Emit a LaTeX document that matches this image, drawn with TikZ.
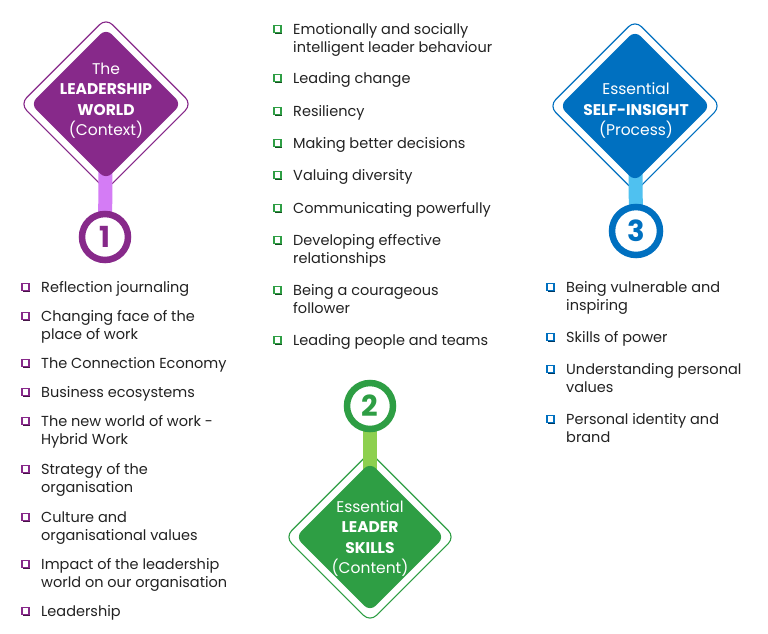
\documentclass[tikz,border=0pt]{standalone}
\usepackage{fontspec}
\setmainfont{Poppins}
\usetikzlibrary{shapes.geometric}
\definecolor{purp}{HTML}{87298A}
\definecolor{purpl}{HTML}{D47CF5}
\definecolor{blu}{HTML}{0070C0}
\definecolor{blul}{HTML}{4FC1F0}
\definecolor{grn}{HTML}{2E9E44}
\definecolor{grnl}{HTML}{8DD04F}
\definecolor{tx}{HTML}{222222}
\newcommand\bul[3]{%
  \fill[#3!50!black] (#1+1.2,#2-2.3) rectangle (#1+8.2,#2+4.7);
  \filldraw[fill=white,draw=#3,line width=1.3pt] (#1,#2-3.5) rectangle (#1+7,#2+3.5);
}
\newcommand\li[4]{\node[txt] (#1) at (#2,#3+5.5) {#4};}
\begin{document}
\begin{tikzpicture}[x=1pt,y=-1pt,
  txt/.style={anchor=base west,inner sep=0pt,text=tx,font=\fontsize{14.5}{18}\selectfont},
  dtxt/.style={inner sep=0pt,text=white,align=center,font=\fontsize{15.5}{20.5}\selectfont},
  outerd/.style={diamond,aspect=1,minimum width=#1,minimum height=#1,inner sep=0pt,fill=white,line width=1.1pt,rounded corners=9pt},
  innerd/.style={diamond,aspect=1,minimum width=#1,minimum height=#1,inner sep=0pt,rounded corners=8pt},
  numc/.style={circle,minimum size=46pt,inner sep=0pt,fill=white,line width=6.5pt,font=\fontsize{29}{29}\selectfont\bfseries},
  stem/.style={line width=14pt}
]
\useasboundingbox (0,0) rectangle (768,633);
\fill[white] (0,0) rectangle (768,633);

% ---- purple: leadership world
\coordinate (p1) at (106,104);
\coordinate (q1) at (105,237);
\node[outerd=172pt,draw=purp] (o1) at (p1) {};
\draw[stem,purpl] (p1) -- (q1);
\node[innerd=151pt,fill=purp] (d1) at (p1) {};
\node[dtxt] (t1) at (106,100.5) {The\\ \bfseries LEADERSHIP\\ \bfseries WORLD\\ (Context)};
\node[numc,draw=purp,text=purp] (c1) at (q1) {1};

% ---- blue: self-insight
\coordinate (p3) at (635,106);
\coordinate (q3) at (636,231);
\node[outerd=172pt,draw=blu] (o3) at (p3) {};
\draw[stem,blul] (p3) -- (q3);
\node[innerd=151pt,fill=blu] (d3) at (p3) {};
\node[dtxt] (t3) at (636,111) {Essential\\ \bfseries SELF-INSIGHT\\ (Process)};
\node[numc,draw=blu,text=blu,minimum size=48pt] (c3) at (q3) {3};

% ---- green: leader skills
\coordinate (p2) at (370,537);
\coordinate (q2) at (370,406);
\node[outerd=170pt,draw=grn] (o2) at (p2) {};
\draw[stem,grnl] (p2) -- (q2);
\node[innerd=149pt,fill=grn] (d2) at (p2) {};
\node[dtxt] (t2) at (370,538.5) {Essential\\ \bfseries LEADER\\ \bfseries SKILLS\\ (Content)};
\node[numc,draw=grn,text=grn] (c2) at (q2) {2};

% ---- left list
\foreach \y in {287,316,363,392,421,469,517,564,611} {\bul{22}{\y}{purp}}
\li{l1}{41}{287}{Reflection journaling}
\li{l2a}{41}{316}{Changing face of the}
\li{l2b}{41}{334}{place of work}
\li{l3}{41}{363}{The Connection Economy}
\li{l4}{41}{392}{Business ecosystems}
\li{l5a}{41}{421}{The new world of work -}
\li{l5b}{41}{439}{Hybrid Work}
\li{l6a}{41}{469}{Strategy of the}
\li{l6b}{41}{487}{organisation}
\li{l7a}{41}{517}{Culture and}
\li{l7b}{41}{535}{organisational values}
\li{l8a}{41}{564}{Impact of the leadership}
\li{l8b}{41}{582}{world on our organisation}
\li{l9}{41}{611}{Leadership}

% ---- middle list
\foreach \y in {29,78,111,143,175,208,240,290,340} {\bul{274}{\y}{grn}}
\li{m1a}{293}{29}{Emotionally and socially}
\li{m1b}{293}{47}{intelligent leader behaviour}
\li{m2}{293}{78}{Leading change}
\li{m3}{293}{111}{Resiliency}
\li{m4}{293}{143}{Making better decisions}
\li{m5}{293}{175}{Valuing diversity}
\li{m6}{293}{208}{Communicating powerfully}
\li{m7a}{293}{240}{Developing effective}
\li{m7b}{293}{258}{relationships}
\li{m8a}{293}{290}{Being a courageous}
\li{m8b}{293}{308}{follower}
\li{m9}{293}{340}{Leading people and teams}

% ---- right list
\foreach \y in {287,337,369,419} {\bul{547}{\y}{blu}}
\li{r1a}{566}{287}{Being vulnerable and}
\li{r1b}{566}{305}{inspiring}
\li{r2}{566}{337}{Skills of power}
\li{r3a}{566}{369}{Understanding personal}
\li{r3b}{566}{387}{values}
\li{r4a}{566}{419}{Personal identity and}
\li{r4b}{566}{437}{brand}
\end{tikzpicture}
\end{document}
